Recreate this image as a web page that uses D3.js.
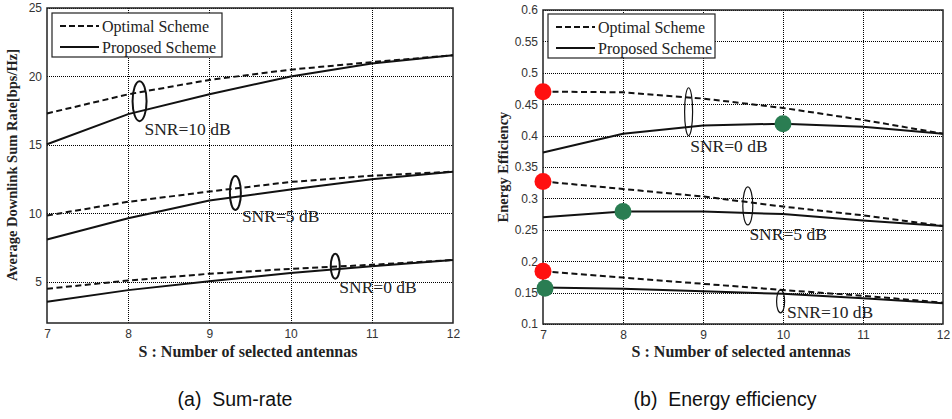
<!DOCTYPE html>
<html>
<head>
<meta charset="utf-8">
<script src="https://cdn.jsdelivr.net/npm/d3@7"></script>
<style>
  body { margin: 0; background: #fff; }
  svg { display: block; }
</style>
</head>
<body>
<svg id="chart" width="952" height="419"></svg>
<script>
// Values
const antennas = [7, 8, 9, 10, 11, 12];

// (a) sum rate [bps/Hz]
const rateOpt10 = [17.3, 18.7, 19.75, 20.5, 21.05, 21.55];
const rateProp10 = [15.05, 17.25, 18.7, 20.0, 20.95, 21.55];
const rateOpt5 = [9.85, 10.85, 11.6, 12.3, 12.75, 13.05];
const rateProp5 = [8.1, 9.65, 10.95, 11.75, 12.5, 13.05];
const rateOpt0 = [4.5, 5.1, 5.6, 5.95, 6.25, 6.6];
const rateProp0 = [3.55, 4.4, 5.05, 5.65, 6.15, 6.6];

// (b) energy efficiency
const eeOpt0 = [0.47, 0.469, 0.459, 0.444, 0.425, 0.403];
const eeProp0 = [0.373, 0.403, 0.416, 0.419, 0.414, 0.403];
const eeOpt5 = [0.327, 0.315, 0.303, 0.287, 0.273, 0.256];
const eeProp5 = [0.27, 0.279, 0.279, 0.275, 0.265, 0.256];
const eeOpt10 = [0.184, 0.174, 0.164, 0.154, 0.145, 0.134];
const eeProp10 = [0.158, 0.156, 0.152, 0.148, 0.141, 0.133];

const rateTicks = [5, 10, 15, 20, 25];
const eeTicks = [0.1, 0.15, 0.2, 0.25, 0.3, 0.35, 0.4, 0.45, 0.5, 0.55, 0.6];

// ellipse groups: [x, y, rx px, ry px]
const rateEllipses = [[8.14, 18.2, 7, 20], [9.32, 11.5, 5.5, 17], [10.55, 6.15, 4.5, 12.5]];
const eeEllipses = [[8.82, 0.438, 4, 24], [9.56, 0.288, 5, 19], [9.97, 0.136, 4, 11.5]];

// SNR labels: [text, x, y]
const rateLabels = [["SNR=10 dB", 8.2, 15.75], ["SNR=5 dB", 9.4, 9.35], ["SNR=0 dB", 10.6, 4.2]];
const eeLabels = [["SNR=0 dB", 8.84, 0.374], ["SNR=5 dB", 9.58, 0.234], ["SNR=10 dB", 10.05, 0.11]];

// best points: red = optimal, green = proposed
const redPoints = [[7, 0.47], [7, 0.327], [7, 0.184]];
const greenPoints = [[10, 0.419], [8, 0.279], [7, 0.157]];

const svg = d3.select("#chart");
const serif = "'Liberation Serif', 'Times New Roman', serif";
const sans = "'Liberation Sans', Arial, sans-serif";

function panel(opts) {
  const x = d3.scaleLinear().domain([7, 12]).range([opts.left, opts.right]);
  const y = d3.scaleLinear().domain(opts.yDomain).range([opts.bottom, opts.top]);
  const g = svg.append("g");
  const snap = v => Math.round(v) + 0.5;

  // dotted grid
  const grid = g.append("g").attr("stroke", "#000").attr("stroke-width", 1)
    .attr("stroke-dasharray", "1,1").attr("fill", "none");
  antennas.slice(1, -1).forEach(d => {
    grid.append("path").attr("d", `M${snap(x(d))},${opts.top}V${opts.bottom}`);
  });
  opts.ticks.forEach(d => {
    grid.append("path").attr("d", `M${opts.left},${snap(y(d))}H${opts.right}`);
  });

  // axes
  const xAxis = g.append("g").attr("transform", `translate(0,${opts.bottom})`)
    .call(d3.axisBottom(x).tickValues(antennas).tickSize(0).tickPadding(6).tickFormat(d3.format("d")));
  const yAxis = g.append("g").attr("transform", `translate(${opts.left},0)`)
    .call(d3.axisLeft(y).tickValues(opts.ticks).tickSize(0).tickPadding(5).tickFormat(opts.fmt));
  [xAxis, yAxis].forEach(a => {
    a.select(".domain").remove();
    a.selectAll("text").attr("font-family", sans).attr("font-size", 12).attr("fill", "#333");
  });

  g.append("rect")
    .attr("x", opts.left).attr("y", opts.top)
    .attr("width", opts.right - opts.left).attr("height", opts.bottom - opts.top)
    .attr("fill", "none").attr("stroke", "#222").attr("stroke-width", 1.5);

  // curves
  const line = d3.line().x((d, i) => x(antennas[i])).y(d => y(d));
  opts.series.forEach(s => {
    g.append("path").attr("d", line(s.values))
      .attr("fill", "none").attr("stroke", "#111").attr("stroke-width", 2)
      .attr("stroke-dasharray", s.dashed ? "6,3.5" : null);
  });

  // ellipses
  g.selectAll("ellipse").data(opts.ellipses).enter().append("ellipse")
    .attr("cx", d => x(d[0])).attr("cy", d => y(d[1]))
    .attr("rx", d => d[2]).attr("ry", d => d[3])
    .attr("fill", "none").attr("stroke", "#111").attr("stroke-width", opts.ellipseWidth);

  // SNR labels
  g.selectAll("text.snr").data(opts.labels).enter().append("text")
    .attr("class", "snr")
    .attr("x", d => x(d[1])).attr("y", d => y(d[2]))
    .attr("font-family", serif).attr("font-size", 17.5).attr("fill", "#222")
    .text(d => d[0]);

  // legend
  const lg = g.append("g").attr("transform", `translate(${opts.legend[0]},${opts.legend[1]})`);
  lg.append("rect").attr("width", opts.legend[2]).attr("height", 44)
    .attr("fill", "#fff").attr("stroke", "#222").attr("stroke-width", 1.2);
  [["Optimal Scheme", true], ["Proposed Scheme", false]].forEach((e, i) => {
    lg.append("line").attr("x1", 8).attr("x2", 47).attr("y1", 13 + i * 21).attr("y2", 13 + i * 21)
      .attr("stroke", "#111").attr("stroke-width", 2).attr("stroke-dasharray", e[1] ? "6,3" : null);
    lg.append("text").attr("x", 50).attr("y", 19 + i * 21)
      .attr("font-family", serif).attr("font-size", 16).attr("fill", "#222").text(e[0]);
  });

  // axis titles
  g.append("text")
    .attr("x", (opts.left + opts.right) / 2 - 2).attr("y", 357)
    .attr("text-anchor", "middle").attr("font-family", serif).attr("font-weight", "bold")
    .attr("font-size", 16).attr("fill", "#222")
    .text("S : Number of selected antennas");
  g.append("text")
    .attr("transform", `translate(${opts.yLabelX},${opts.yLabelY}) rotate(-90)`)
    .attr("text-anchor", "middle").attr("font-family", serif).attr("font-weight", "bold")
    .attr("font-size", 14.5).attr("fill", "#222")
    .text(opts.yLabel);

  // caption
  g.append("text")
    .attr("x", opts.captionX).attr("y", 406)
    .attr("text-anchor", "middle").attr("font-family", sans).attr("font-size", 19.5)
    .attr("fill", "#111").attr("xml:space", "preserve")
    .text(opts.caption);

  return { g, x, y };
}

panel({
  left: 47, right: 453, top: 8, bottom: 323, yDomain: [2, 25],
  ticks: rateTicks, fmt: d3.format("d"),
  series: [
    { values: rateOpt10, dashed: true }, { values: rateProp10, dashed: false },
    { values: rateOpt5, dashed: true }, { values: rateProp5, dashed: false },
    { values: rateOpt0, dashed: true }, { values: rateProp0, dashed: false }
  ],
  ellipses: rateEllipses, ellipseWidth: 2, labels: rateLabels,
  legend: [52, 13, 170],
  yLabel: "Average Downlink Sum Rate[bps/Hz]", yLabelX: 17, yLabelY: 165,
  caption: "(a)  Sum-rate", captionX: 235
});

const b = panel({
  left: 543, right: 943, top: 10, bottom: 324, yDomain: [0.1, 0.6],
  ticks: eeTicks, fmt: d => d3.format("")(+d.toFixed(2)),
  series: [
    { values: eeOpt0, dashed: true }, { values: eeProp0, dashed: false },
    { values: eeOpt5, dashed: true }, { values: eeProp5, dashed: false },
    { values: eeOpt10, dashed: true }, { values: eeProp10, dashed: false }
  ],
  ellipses: eeEllipses, ellipseWidth: 1.2, labels: eeLabels,
  legend: [548, 14, 167],
  yLabel: "Energy Efficiency", yLabelX: 508, yLabelY: 167,
  caption: "(b)  Energy efficiency", captionX: 725
});

b.g.selectAll("circle.red").data(redPoints).enter().append("circle")
  .attr("cx", d => b.x(d[0])).attr("cy", d => b.y(d[1])).attr("r", 8.5)
  .attr("fill", "#ff1010");
b.g.selectAll("circle.green").data(greenPoints).enter().append("circle")
  .attr("cx", d => b.x(d[0]) + (d[0] === 7 ? 2 : 0)).attr("cy", d => b.y(d[1])).attr("r", 8.5)
  .attr("fill", "#2a7d52");
</script>
</body>
</html>
